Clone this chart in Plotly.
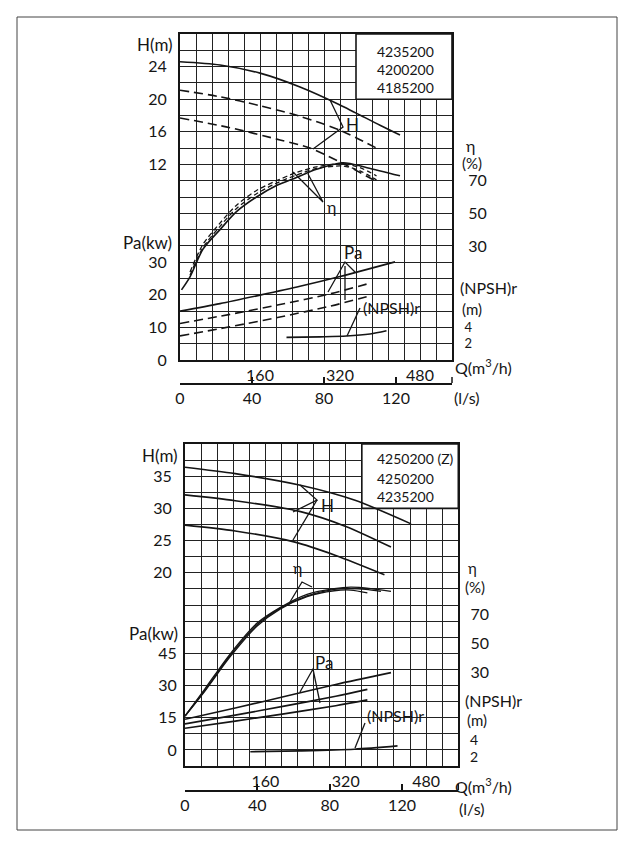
import plotly.graph_objects as go

# page is shown with an 8px body margin, so the figure is 8px smaller
OFF = 8
W, HT = 634 - OFF, 846 - OFF
FONT = "Lato, 'DejaVu Sans', sans-serif"
INK = "#151515"
GRID = "#222222"

# ---------------- data : top chart ----------------
top_models = ["4235200", "4200200", "4185200"]
q_labels = [160, 320, 480]
ls_labels = [0, 40, 80, 120]

top_q_h1 = [0, 80, 160, 240, 320, 400, 440]
top_h1 = [24.6, 24.2, 23.2, 21.5, 19.3, 16.8, 15.6]
top_q_h2 = [0, 80, 160, 240, 320, 393]
top_h2 = [21.1, 20.3, 19.2, 17.9, 16.2, 14.0]
top_q_h3 = [0, 100, 200, 260, 320, 393]
top_h3 = [17.7, 16.5, 15.0, 14.0, 12.3, 9.9]

top_q_e1 = [3, 20, 46, 80, 113, 153, 193, 233, 273, 326, 374, 440]
top_e1 = [3, 11, 28, 40, 51, 60, 67, 72, 77, 81, 78, 73]
top_q_e2 = [20, 46, 80, 113, 153, 193, 233, 273, 326, 360, 393]
top_e2 = [14, 31, 44, 55, 64, 70, 75, 78.5, 80.5, 78, 73]
top_q_e3 = [20, 46, 80, 113, 153, 193, 233, 273, 326, 360, 393]
top_e3 = [12, 29, 42, 53, 62, 68.5, 73.5, 77.5, 79, 76, 70.5]

top_q_p1 = [0, 80, 160, 240, 320, 430]
top_p1 = [15.0, 17.3, 19.9, 22.6, 25.6, 30.1]
top_q_p2 = [0, 100, 200, 300, 383]
top_p2 = [11.2, 14.0, 17.0, 20.3, 23.7]
top_q_p3 = [0, 100, 200, 300, 383]
top_p3 = [7.4, 10.2, 13.2, 16.5, 19.8]

top_q_n = [213, 280, 333, 380, 413]
top_n = [2.71, 2.78, 2.88, 3.14, 3.55]

top_h_ticks = [12, 16, 20, 24]
top_pa_ticks = [0, 10, 20, 30]
top_eta_ticks = [30, 50, 70]
npsh_ticks = [2, 4]

# ---------------- data : bottom chart ----------------
bot_models = ["4250200 (Z)", "4250200", "4235200"]

bot_q_h1 = [0, 100, 230, 337, 450]
bot_h1 = [36.4, 35.4, 33.6, 31.3, 27.6]
bot_q_h2 = [0, 100, 230, 320, 410]
bot_h2 = [32.1, 31.2, 29.5, 27.2, 24.0]
bot_q_h3 = [0, 100, 217, 300, 397]
bot_h3 = [27.4, 26.5, 24.8, 22.7, 19.7]

bot_q_e1 = [0, 40, 90, 143, 190, 243, 297, 330, 370, 410]
bot_e1 = [0, 19, 43, 64, 75, 84, 88, 89, 88, 86]
bot_q_e2 = [0, 40, 90, 143, 190, 243, 297, 330, 360, 390]
bot_e2 = [0, 18, 42, 63, 74.5, 83, 87.5, 88, 87.5, 86]
bot_q_e3 = [0, 40, 90, 143, 190, 243, 297, 330, 363]
bot_e3 = [0, 17.5, 41, 62, 74, 82.5, 86.5, 87, 85]

bot_q_p1 = [0, 100, 200, 300, 410]
bot_p1 = [14.3, 19.5, 25.0, 30.5, 36.0]
bot_q_p2 = [0, 100, 200, 300, 363]
bot_p2 = [12.1, 16.2, 20.5, 25.0, 28.2]
bot_q_p3 = [0, 100, 200, 300, 363]
bot_p3 = [10.1, 13.4, 16.9, 20.6, 23.3]

bot_q_n = [130, 230, 337, 423]
bot_n = [2.6, 2.7, 2.9, 3.3]

bot_h_ticks = [20, 25, 30, 35]
bot_pa_ticks = [0, 15, 30, 45]
bot_eta_ticks = [30, 50, 70]

Q_MAX = 544           # m3/h at right edge of grid
LS_MAX = Q_MAX / 3.6  # l/s


def px(x):
    return (x - OFF) / W


def py(y):
    return 1 - (y - OFF) / HT


fig = go.Figure()


def line(xs, ys, xa, ya, dash=None, width=1.6):
    fig.add_trace(go.Scatter(
        x=xs, y=ys, xaxis=xa, yaxis=ya, mode="lines",
        line=dict(color=INK, width=width, dash=dash, shape="spline", smoothing=0.8),
        hoverinfo="skip", showlegend=False))


DASH = "9px,5px"

# top chart curves
line(top_q_h1, top_h1, "x", "y2")
line(top_q_h2, top_h2, "x", "y2", DASH)
line(top_q_h3, top_h3, "x", "y2", DASH)
line(top_q_e1, top_e1, "x", "y4")
line(top_q_e2, top_e2, "x", "y4", "5px,3px", 1.3)
line(top_q_e3, top_e3, "x", "y4", "5px,3px", 1.3)
line(top_q_p1, top_p1, "x", "y3")
line(top_q_p2, top_p2, "x", "y3", DASH)
line(top_q_p3, top_p3, "x", "y3", DASH)
line(top_q_n, top_n, "x", "y5")

# bottom chart curves
line(bot_q_h1, bot_h1, "x3", "y7")
line(bot_q_h2, bot_h2, "x3", "y7")
line(bot_q_h3, bot_h3, "x3", "y7")
line(bot_q_e1, bot_e1, "x3", "y9", None, 1.3)
line(bot_q_e2, bot_e2, "x3", "y9", None, 1.3)
line(bot_q_e3, bot_e3, "x3", "y9", None, 1.3)
line(bot_q_p1, bot_p1, "x3", "y8")
line(bot_q_p2, bot_p2, "x3", "y8")
line(bot_q_p3, bot_p3, "x3", "y8")
line(bot_q_n, bot_n, "x3", "y10")

# invisible carriers for the l/s scales (own small subplots)
for xa, ya in (("x2", "y11"), ("x4", "y12")):
    fig.add_trace(go.Scatter(x=ls_labels, y=[0] * len(ls_labels), xaxis=xa, yaxis=ya,
                             mode="markers", marker=dict(opacity=0), hoverinfo="skip",
                             showlegend=False))

tf = dict(family=FONT, size=16, color=INK)
grid_q = list(range(0, Q_MAX + 1, 32))


def q_axis(dom, anchor):
    return dict(domain=dom, anchor=anchor, range=[0, Q_MAX], tickmode="array",
                tickvals=q_labels, ticks="", showgrid=False, zeroline=False,
                minor=dict(tickmode="array", tickvals=grid_q, showgrid=True,
                           gridcolor=GRID, gridwidth=1.4, ticks=""),
                showline=True, mirror=True, linecolor=INK, linewidth=2, tickfont=tf,
                fixedrange=True, automargin=False)


def row_axis(dom, anchor):
    return dict(domain=dom, anchor=anchor, range=[0, 20], tickmode="linear", tick0=0, dtick=1,
                showticklabels=False, ticks="", showgrid=True, gridcolor=GRID, gridwidth=1.4,
                zeroline=False, showline=True, mirror=True, linecolor=INK, linewidth=2,
                fixedrange=True, automargin=False)


def over_y(base, anchor, side, rng, ticks, standoff, size=16):
    return dict(overlaying=base, anchor=anchor, side=side, range=rng, tickmode="array",
                tickvals=ticks, ticks="outside", ticklen=standoff, tickcolor="rgba(0,0,0,0)",
                showgrid=False, zeroline=False, showline=False,
                tickfont=dict(family=FONT, size=size, color=INK),
                fixedrange=True, automargin=False)


def ls_axis(dom, anchor):
    return dict(domain=dom, anchor=anchor, side="bottom",
                range=[0, LS_MAX], tickmode="array", tickvals=ls_labels,
                ticks="inside", ticklen=6,
                tickwidth=1.5, tickcolor=INK, showline=True, linecolor=INK, linewidth=1.5,
                showgrid=False, zeroline=False, tickfont=tf,
                fixedrange=True, automargin=False)


def tiny_y(pos, anchor):
    return dict(domain=[py(pos), py(pos) + 0.012], anchor=anchor, range=[0, 1],
                visible=False, fixedrange=True)


fig.update_layout(
    width=W, height=HT, margin=dict(l=0, r=0, t=0, b=0),
    paper_bgcolor="white", plot_bgcolor="rgba(0,0,0,0)", showlegend=False,
    font=dict(family=FONT, color=INK),
    xaxis=q_axis([px(180), px(452)], "y"),
    yaxis=row_axis([py(360), py(34)], "x"),
    xaxis2=ls_axis([px(180), px(452)], "y11"),
    yaxis11=tiny_y(383, "x2"),
    yaxis2=over_y("y", "x", "left", [-12, 28], top_h_ticks, 9),
    yaxis3=over_y("y", "x", "left", [0, 100], top_pa_ticks, 9),
    yaxis4=over_y("y", "x", "right", [-40, 160], top_eta_ticks, 12),
    yaxis5=over_y("y", "x", "right", [-0.12, 40.7], npsh_ticks, 9, 13),
    xaxis3=q_axis([px(185), px(458.3)], "y6"),
    yaxis6=row_axis([py(766), py(444)], "x3"),
    xaxis4=ls_axis([px(185), px(458.3)], "y12"),
    yaxis12=tiny_y(790, "x4"),
    yaxis7=over_y("y6", "x3", "left", [-10, 40], bot_h_ticks, 9),
    yaxis8=over_y("y6", "x3", "left", [-7.5, 142.5], bot_pa_ticks, 4),
    yaxis9=over_y("y6", "x3", "right", [-34.44, 187.78], bot_eta_ticks, 8),
    yaxis10=over_y("y6", "x3", "right", [0.874, 39.71], npsh_ticks, 8, 14),
)

shapes = []
# legend boxes (white, covering the grid)
shapes.append(dict(type="rect", xref="x", yref="y", x0=352, x1=Q_MAX, y0=16, y1=20,
                   fillcolor="white", line=dict(color=INK, width=1.6), layer="between"))
shapes.append(dict(type="rect", xref="x3", yref="y6", x0=352, x1=Q_MAX, y0=16, y1=20,
                   fillcolor="white", line=dict(color=INK, width=1.6), layer="between"))
# outer frame
shapes.append(dict(type="rect", xref="paper", yref="paper", x0=px(17), x1=px(617),
                   y0=py(830), y1=py(17), line=dict(color="#444", width=1)))
# end marks of the l/s scales
for x_end, y_ax in ((452, 383), (458.3, 790)):
    shapes.append(dict(type="line", xref="paper", yref="paper", x0=px(x_end), x1=px(x_end),
                       y0=py(y_ax), y1=py(y_ax - 6), line=dict(color=INK, width=1.5)))

leaders = [
    [(330, 100), (343, 127), (313, 149)],          # top H
    [(293, 172), (323, 202), (308, 174)],          # top eta
    [(328, 292), (345, 262), (355, 272)],          # top Pa
    [(345, 266), (345, 300)],
    [(360, 308), (347, 336)],                      # top NPSH
    [(300, 485), (317, 500), (293, 512)],          # bottom H
    [(317, 500), (293, 540)],
    [(290, 602), (302, 582), (312, 587)],          # bottom eta
    [(300, 692), (313, 669), (320, 703)],          # bottom Pa
    [(365, 723), (355, 748)],                      # bottom NPSH
]
for pts in leaders:
    path = "M " + " L ".join(f"{px(x)},{py(y)}" for x, y in pts)
    shapes.append(dict(type="path", xref="paper", yref="paper", path=path,
                       line=dict(color=INK, width=1.3)))
fig.update_layout(shapes=shapes)


def txt(x, y, s, size=16, xanchor="center"):
    fig.add_annotation(x=px(x), y=py(y), xref="paper", yref="paper", text=s, showarrow=False,
                       xanchor=xanchor, yanchor="middle", font=dict(family=FONT, size=size, color=INK))


# top chart labels
txt(155, 45, "H(m)", 17)
txt(147, 242, "Pa(kw)", 17)
txt(470, 145, "η", 16)
txt(472, 163, "(%)", 15)
txt(488, 287, "(NPSH)r", 16)
txt(472, 309, "(m)", 15)
txt(483, 366, "Q(m<sup>3</sup>/h)", 16)
txt(467, 397, "(l/s)", 16)
txt(352, 125, "H", 17)
txt(331, 206, "η", 16)
txt(353, 252, "Pa", 17)
txt(391, 307, "(NPSH)r", 16)
for i, m in enumerate(top_models):
    txt(375, [51, 70, 88][i], m, 14, "left")

# bottom chart labels
txt(160, 455, "H(m)", 17)
txt(153, 633, "Pa(kw)", 17)
txt(472, 568, "η", 15)
txt(475, 587, "(%)", 15)
txt(493, 700, "(NPSH)r", 16)
txt(477, 720, "(m)", 15)
txt(483, 785, "Q(m<sup>3</sup>/h)", 16)
txt(472, 808, "(l/s)", 16)
txt(327, 505, "H", 17)
txt(297, 567, "η", 16)
txt(324, 662, "Pa", 17)
txt(396, 715, "(NPSH)r", 16)
for i, m in enumerate(bot_models):
    txt(375, [458, 478, 496][i], m, 14, "left")

fig.write_html("out.html")
